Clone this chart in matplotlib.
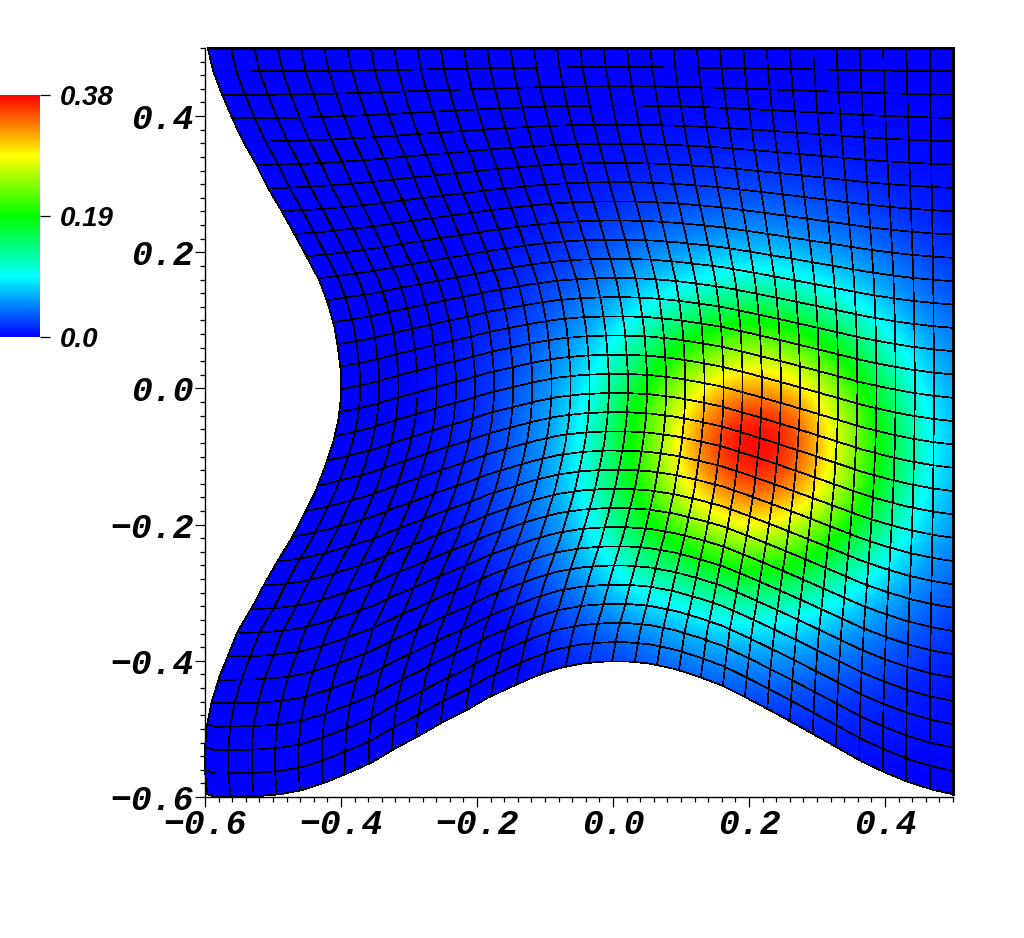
import numpy as np
import matplotlib
matplotlib.use("Agg")
import matplotlib.pyplot as plt
from matplotlib.colors import LinearSegmentedColormap
from matplotlib.patches import Polygon
from matplotlib.ticker import MultipleLocator

# outline of the domain
left_x = [-.596, -.588, -.575, -.560, -.544, -.524, -.507, -.487, -.468, -.449, -.431, -.419, -.409, -.404, -.400,
          -.400, -.404, -.412, -.424, -.437, -.454, -.472, -.493, -.512, -.531, -.551, -.565, -.579, -.590, -.597,
          -.600, -.600, -.597]
left_y = [.500, .466, .432, .397, .363, .328, .294, .260, .226, .191, .157, .124, .088, .056, .022,
          -.013, -.047, -.081, -.116, -.150, -.184, -.219, -.253, -.286, -.322, -.355, -.389, -.424, -.460, -.494,
          -.529, -.563, -.596]
bottom_x = [-.597, -.585, -.526, -.490, -.457, -.424, -.390, -.354, -.321, -.287, -.254, -.218, -.184, -.149, -.115,
            -.081, -.046, -.012, .022, .054, .091, .125, .160, .194, .228, .263, .297, .331, .366, .400, .434, .469, .500]
bottom_y = [-.596, -.600, -.599, -.596, -.590, -.579, -.565, -.549, -.529, -.511, -.492, -.474, -.454, -.438, -.423,
            -.411, -.404, -.401, -.401, -.404, -.412, -.423, -.436, -.453, -.471, -.490, -.509, -.528, -.548, -.564,
            -.578, -.589, -.596]

# value of the field *1000, one row per y from 0.5 down to -0.6, x from -0.6 to 0.5 by 0.05
field_rows = [
    [0, 0, 0, 0, 0, 0, 0, 0, 0, 0, 0, 0, 0, 0, 0, 0, 0, 0, 0, 0, 0, 0, 0],
    [0, 0, 0, 0, 0, 0, 0, 0, 0, 0, 0, 0, 0, 0, 0, 0, 0, 0, 0, 0, 0, 0, 0],
    [0, 0, 0, 0, 0, 0, 0, 0, 0, 0, 0, 0, 2, 3, 3, 4, 4, 4, 3, 3, 2, 2, 1],
    [0, 0, 0, 0, 0, 0, 0, 0, 0, 0, 1, 3, 4, 6, 9, 10, 11, 11, 9, 7, 5, 3, 1],
    [0, 0, 0, 0, 0, 0, 0, 0, 0, 1, 3, 6, 10, 14, 19, 22, 24, 24, 20, 15, 12, 8, 4],
    [0, 0, 0, 0, 0, 0, 0, 0, 1, 3, 8, 13, 20, 29, 35, 41, 44, 42, 38, 32, 24, 15, 9],
    [0, 0, 0, 0, 0, 0, 0, 0, 3, 7, 14, 24, 35, 48, 58, 68, 73, 71, 61, 53, 40, 28, 17],
    [0, 0, 0, 0, 0, 0, 0, 2, 5, 12, 23, 36, 54, 74, 94, 113, 122, 118, 100, 81, 59, 43, 28],
    [0, 0, 0, 0, 0, 0, 0, 3, 9, 17, 33, 52, 78, 111, 148, 176, 188, 182, 160, 126, 88, 57, 39],
    [0, 0, 0, 0, 0, 0, 1, 4, 12, 24, 43, 67, 106, 156, 204, 240, 258, 249, 218, 174, 124, 80, 51],
    [0, 0, 0, 0, 0, 0, 2, 6, 14, 30, 51, 83, 135, 196, 254, 303, 325, 314, 276, 216, 156, 97, 59],
    [0, 0, 0, 0, 0, 0, 2, 7, 15, 33, 56, 91, 152, 218, 289, 352, 378, 372, 310, 242, 176, 111, 67],
    [0, 0, 0, 0, 0, 0, 2, 7, 16, 33, 56, 94, 156, 224, 294, 362, 385, 376, 316, 247, 180, 115, 68],
    [0, 0, 0, 0, 0, 0, 2, 6, 15, 31, 53, 88, 150, 208, 272, 321, 352, 334, 292, 230, 166, 104, 63],
    [0, 0, 0, 0, 0, 0, 0, 5, 13, 27, 46, 75, 135, 185, 224, 267, 289, 278, 240, 192, 136, 87, 55],
    [0, 0, 0, 0, 0, 0, 0, 0, 10, 21, 36, 68, 100, 150, 172, 202, 216, 210, 184, 144, 100, 67, 44],
    [0, 0, 0, 0, 0, 0, 0, 0, 0, 14, 27, 43, 75, 100, 115, 138, 148, 142, 124, 95, 71, 49, 32],
    [0, 0, 0, 0, 0, 0, 0, 0, 0, 0, 16, 29, 43, 56, 71, 84, 89, 86, 78, 61, 48, 34, 20],
    [0, 0, 0, 0, 0, 0, 0, 0, 0, 0, 10, 16, 26, 35, 45, 51, 54, 53, 47, 39, 30, 20, 12],
    [0, 0, 0, 0, 0, 0, 0, 0, 0, 0, 0, 8, 14, 20, 25, 30, 31, 30, 27, 22, 15, 10, 5],
    [0, 0, 0, 0, 0, 0, 0, 0, 0, 0, 0, 0, 8, 10, 12, 13, 14, 14, 13, 11, 9, 6, 4],
    [0, 0, 0, 0, 0, 0, 0, 0, 0, 0, 0, 0, 0, 0, 3, 4, 5, 5, 5, 4, 3, 2, 1],
    [0, 0, 0, 0, 0, 0, 0, 0, 0, 0, 0, 0, 0, 0, 0, 0, 0, 0, 0, 0, 0, 0, 0],
]

x_ticks = [-0.6, -0.4, -0.2, 0.0, 0.2, 0.4]
y_ticks = [-0.6, -0.4, -0.2, 0.0, 0.2, 0.4]
cbar_ticks = [0.0, 0.19, 0.38]
cbar_labels = ["0.0", "0.19", "0.38"]

W, H = 1024, 938
n_cells = 32
tick_font = {"family": "Liberation Mono", "weight": "bold", "style": "italic", "size": 25}

rainbow = LinearSegmentedColormap.from_list("rainbow5", ["#0000ff", "#00ffff", "#00ff00", "#ffff00", "#ff0000"], N=512)

fig = plt.figure(figsize=(W / 100, H / 100), dpi=100)
ax = fig.add_axes([205 / W, 1 - 797 / H, 748 / W, 749 / H])

# field, smoothed by imshow itself and cut to the domain
field = np.array(field_rows) / 1000
im = ax.imshow(field, extent=[-0.625, 0.525, -0.625, 0.525], origin="upper", aspect="auto", cmap=rainbow,
               vmin=0, vmax=0.38, interpolation="bicubic", interpolation_stage="data")
outline = list(zip(left_x, left_y)) + list(zip(bottom_x, bottom_y)) + [(0.5, 0.5)]
domain = Polygon(outline, closed=True, transform=ax.transData, facecolor="none", edgecolor="none")
ax.add_patch(domain)
im.set_clip_path(domain)

# mesh lines: the left and bottom outline fade out towards the right and top sides
u, v = np.meshgrid(np.linspace(0, 1, n_cells * 8 + 1), np.linspace(0, 1, n_cells * 8 + 1))
mx, my = u - 0.5, v - 0.5
for it in range(12):
    xl = np.interp(my, left_y[::-1], left_x[::-1])
    mx = xl + (0.5 - xl) * u
    yb = np.interp(mx, bottom_x, bottom_y)
    my = yb + (0.5 - yb) * v
for k in range(0, n_cells * 8 + 1, 8):
    # the right and top sides of the mesh are heavier
    lw = 1.0 if k == n_cells * 8 else 0.5
    ax.plot(mx[:, k], my[:, k], color="k", lw=lw, antialiased=False, clip_on=False)
    ax.plot(mx[k, :], my[k, :], color="k", lw=lw, antialiased=False, clip_on=False)

ax.set_xlim(-0.6, 0.5)
ax.set_ylim(-0.6, 0.5)
ax.spines["top"].set_visible(False)
ax.spines["right"].set_visible(False)
ax.spines["left"].set_linewidth(1.0)
ax.spines["bottom"].set_linewidth(1.0)
ax.set_xticks(x_ticks)
ax.set_yticks(y_ticks)
ax.set_xticklabels(["\u2212%.1f" % abs(t) if t < 0 else "%.1f" % t for t in x_ticks], **tick_font)
ax.set_yticklabels(["\u2212%.1f" % abs(t) if t < 0 else "%.1f" % t for t in y_ticks], **tick_font)
ax.xaxis.set_minor_locator(MultipleLocator(0.02))
ax.yaxis.set_minor_locator(MultipleLocator(0.02))
ax.tick_params(which="major", length=7.2, width=0.9, pad=1)
ax.tick_params(which="minor", length=3.6, width=0.9)

# colour bar runs off the left side of the figure
cax = fig.add_axes([0, 1 - 337 / H, 40 / W, 242 / H])
cb = fig.colorbar(im, cax=cax)
cb.outline.set_visible(False)
cb.set_ticks(cbar_ticks)
cb.set_ticklabels(cbar_labels, family="Liberation Sans", style="italic", weight="bold", size=20)
cax.tick_params(length=7.2, width=0.9, pad=7)
cax.minorticks_off()

fig.savefig("out.png", dpi=100)
